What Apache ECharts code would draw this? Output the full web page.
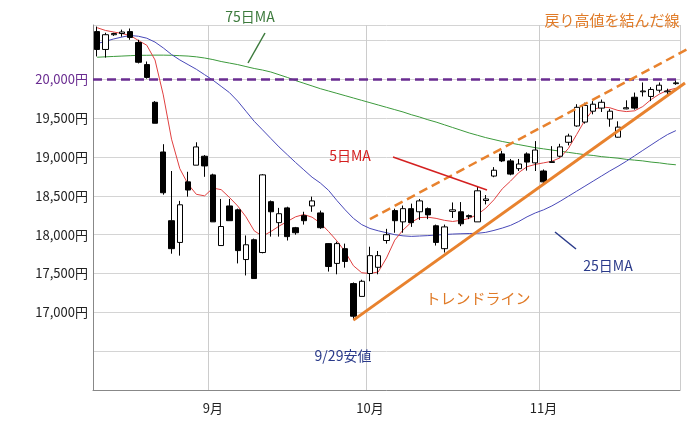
<!DOCTYPE html>
<html><head><meta charset="utf-8">
<script src="https://cdn.jsdelivr.net/npm/echarts@6/dist/echarts.min.js"></script>
<style>html,body{margin:0;padding:0;background:#fff}#c{width:700px;height:431px}</style>
</head><body><div id="c"></div>
<script>
const categories = ["8/12","8/13","8/14","8/17","8/18","8/19","8/20","8/21","8/24","8/25","8/26","8/27","8/28","8/31",
"9/1","9/2","9/3","9/4","9/7","9/8","9/9","9/10","9/11","9/14","9/15","9/16","9/17","9/18","9/24","9/25","9/28","9/29","9/30",
"10/1","10/2","10/5","10/6","10/7","10/8","10/9","10/13","10/14","10/15","10/16","10/19","10/20","10/21","10/22","10/23","10/26","10/27","10/28","10/29","10/30",
"11/2","11/4","11/5","11/6","11/9","11/10","11/11","11/12","11/13","11/16","11/17","11/18","11/19","11/20","11/24","11/25","11/26"];
const monthLabels = {14:"9月",33:"10月",54:"11月"};
const opens = [20615,20385,20575,20590,20615,20475,20190,19705,19065,18180,17900,18680,18895,19010,18770,17860,18370,18320,17680,17935,17770,18425,18155,18345,18090,18245,18370,18280,17885,17630,17820,17370,17205,17500,17580,17925,18310,18165,18335,18295,18335,18115,17820,18300,18295,18245,18165,18440,18755,19040,18950,18850,19040,18925,18820,18930,19010,19190,19400,19450,19590,19630,19490,19255,19620,19770,19840,19780,19860,19840,19945];
const closes = [20385,20575,20590,20610,20540,20220,20025,19435,18540,17820,18385,18575,19130,18885,18165,18105,18180,17795,17870,17435,18770,18295,18270,17975,18025,18180,18435,18090,17590,17885,17655,16950,17400,17730,17730,18000,18180,18335,18155,18435,18255,17900,18100,18320,18140,18230,18565,18460,18830,18950,18780,18910,18935,19090,18680,18940,19130,19270,19640,19665,19680,19705,19590,19385,19635,19630,19850,19870,19925,19850,19955];
const lows = [20295,20280,20560,20550,20510,20205,20010,19435,18515,17755,17730,18490,18895,18745,18165,17860,18180,17630,17475,17435,17760,17975,17975,17925,18000,18130,18295,18075,17525,17490,17575,16900,17205,17400,17490,17885,18025,18025,18100,18190,18200,17860,17770,18215,18110,18200,18165,18390,18740,18935,18765,18820,18825,18820,18665,18925,18995,19150,19390,19430,19550,19580,19390,19250,19615,19610,19780,19720,19830,19810,19930];
const highs = [20680,20600,20600,20640,20655,20510,20230,19720,19165,18820,18435,18810,19190,19025,18785,18460,18460,18335,17990,17950,18780,18440,18345,18360,18100,18295,18490,18310,17890,17910,17885,17385,17420,17845,17790,18075,18335,18375,18400,18460,18350,18130,18130,18415,18420,18260,18615,18510,18870,19080,18975,18975,19060,19205,18840,19140,19170,19300,19680,19700,19720,19740,19620,19460,19730,19830,19960,19900,19960,19880,19990];
const ma5 = [20665,20630,20610,20590,20565,20500,20440,20250,19800,19230,18850,18650,18520,18500,18600,18580,18480,18370,18230,18050,17980,18040,18110,18170,18230,18260,18225,18150,18040,17920,17780,17600,17510,17500,17520,17700,17930,18060,18160,18220,18225,18210,18185,18170,18185,18210,18260,18340,18450,18590,18690,18800,18875,18905,18925,18945,18990,19110,19290,19475,19610,19645,19635,19600,19585,19595,19650,19740,19810,19860,19885];
const ma25 = [20460,20490,20520,20545,20565,20555,20530,20480,20405,20320,20250,20190,20130,20060,19990,19910,19830,19720,19590,19460,19350,19240,19130,19030,18930,18835,18740,18665,18570,18440,18320,18210,18130,18080,18050,18025,18000,17985,17978,17983,17988,17995,18002,18008,18012,18015,18018,18030,18055,18085,18120,18170,18230,18280,18320,18370,18430,18495,18560,18625,18690,18755,18820,18880,18945,19015,19085,19155,19225,19290,19340];
const ma75 = [20285,20290,20295,20300,20305,20310,20310,20312,20312,20310,20305,20300,20290,20275,20255,20230,20210,20190,20165,20140,20120,20095,20060,20025,19985,19950,19915,19880,19850,19820,19790,19760,19730,19700,19670,19640,19610,19580,19545,19515,19480,19450,19415,19380,19345,19310,19280,19250,19225,19200,19180,19160,19140,19120,19105,19090,19075,19060,19045,19030,19020,19005,18995,18985,18970,18960,18950,18935,18925,18910,18900];
const yTicks = [17000,17500,18000,18500,19000,19500,20000];
const FONT = '"Noto Sans CJK JP", sans-serif';

const candle = opens.map((o,i)=>[o, closes[i], lows[i], highs[i]]);
const chart = echarts.init(document.getElementById('c'));
chart.setOption({
  animation:false,
  grid:{left:93,right:20,top:25,bottom:41},
  xAxis:{type:'category',data:categories,boundaryGap:true,
    axisLine:{lineStyle:{color:'#888'}},axisTick:{show:false},
    axisLabel:{interval:(i)=>monthLabels[i]!==undefined,formatter:(v,i)=>monthLabels[i]||'',color:'#222',fontSize:13,fontFamily:FONT,margin:12},
    splitLine:{show:true,interval:(i)=>monthLabels[i]!==undefined,lineStyle:{color:'#ccc'}}},
  yAxis:{type:'value',min:16000,max:20700,interval:500,
    axisLine:{show:true,lineStyle:{color:'#888'}},axisTick:{show:false},
    axisLabel:{fontFamily:FONT,fontSize:13,margin:5,
      formatter:(v)=>yTicks.includes(v)?(v.toLocaleString('en-US')+'円'):'',
      color:(v)=>v==20000?'#6a2c91':'#222'},
    splitLine:{lineStyle:{color:'#d4d4d4'}}},
  series:[
    {type:'line',data:ma75,symbol:'none',lineStyle:{color:'#3c9a3c',width:1},z:1},
    {type:'line',data:ma25,symbol:'none',lineStyle:{color:'#4848b8',width:1},z:1},
    {type:'line',data:ma5,symbol:'none',lineStyle:{color:'#e04040',width:1},z:1},
    {type:'candlestick',data:candle,barWidth:'70%',z:3,
      itemStyle:{color:'#fff',color0:'#000',borderColor:'#000',borderColor0:'#000',borderWidth:1},
      markLine:{silent:true,symbol:'none',label:{show:false},
        lineStyle:{color:'#6a2c91',type:[9,5],width:2.5},data:[{yAxis:20000}]}}
  ]
});
const P=(i,v)=>chart.convertToPixel({gridIndex:0},[i,v]);
function ext(a,b,x){const t=(x-a[0])/(b[0]-a[0]);return [x,a[1]+t*(b[1]-a[1])];}
const t1=P(31,16900), t2=P(70,19870);
const r1=P(33,18200), r2=P(70,20310);
const tEnd=ext(t1,t2,685), rEnd=ext(r1,r2,690);
const txt=(x,y,s,c,size,align)=>({type:'text',x:x,y:y,style:{text:s,fill:c,font:(size||14)+'px '+FONT,textAlign:align||'center',textVerticalAlign:'middle'},z:10});
chart.setOption({graphic:[
  {type:'line',shape:{x1:t1[0],y1:t1[1],x2:tEnd[0],y2:tEnd[1]},style:{stroke:'#e8822e',lineWidth:3},z:8},
  {type:'line',shape:{x1:r1[0],y1:r1[1],x2:rEnd[0],y2:rEnd[1]},style:{stroke:'#e8822e',lineWidth:2.5,lineDash:[9,5]},z:8},
  txt(250,17,'75日MA','#3c7a3c',14),
  {type:'line',shape:{x1:265,y1:33,x2:248,y2:63},style:{stroke:'#3c7a3c',lineWidth:1.5},z:9},
  txt(612,20,'戻り高値を結んだ線','#e07b28',15),
  txt(350,156,'5日MA','#d42020',14),
  {type:'line',shape:{x1:393,y1:157,x2:487,y2:190},style:{stroke:'#d42020',lineWidth:1.5},z:9},
  txt(478,298,'トレンドライン','#e07b28',15),
  txt(608,266,'25日MA','#2a3a8a',14),
  {type:'line',shape:{x1:555,y1:232,x2:576,y2:249},style:{stroke:'#2a3a8a',lineWidth:1.5},z:9},
  txt(343,356,'9/29安値','#2a3a8a',14)
]});
</script></body></html>
